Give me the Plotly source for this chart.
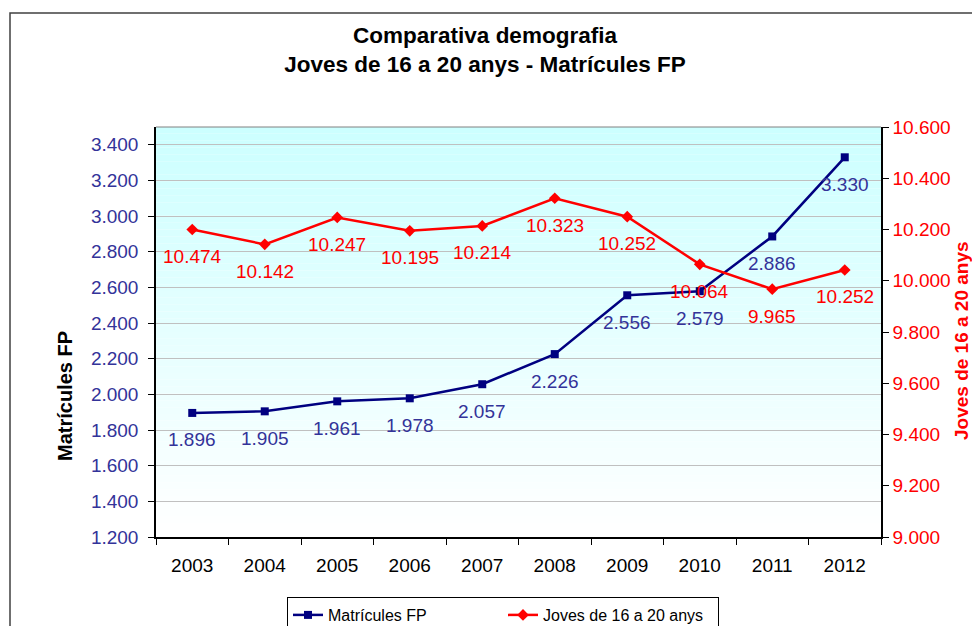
import plotly.graph_objects as go

# --- data -------------------------------------------------------------------
years = ["2003", "2004", "2005", "2006", "2007", "2008", "2009", "2010", "2011", "2012"]
matricules_fp = [1896, 1905, 1961, 1978, 2057, 2226, 2556, 2579, 2886, 3330]
joves_16_20 = [10200, 10142, 10247, 10195, 10214, 10322, 10250, 10064, 9967, 10042]
joves_labels = ["10.474", "10.142", "10.247", "10.195", "10.214",
                "10.323", "10.252", "10.064", "9.965", "10.252"]

W, H = 972, 626
L, R, T, B = 156, 881, 127, 537
FONT = "Arial, Liberation Sans, sans-serif"
BLUE_LINE = "#000080"
BLUE_TEXT = "#333399"
RED = "#FF0000"


def px_x(px):
    return (px - L) / (R - L)


def px_y(py):
    return (B - py) / (B - T)


def thousands(v):
    return f"{v:,}".replace(",", ".")


fig = go.Figure()
fig.add_trace(go.Scatter(
    x=years, y=matricules_fp, name="Matrícules FP", mode="lines+markers",
    line=dict(color=BLUE_LINE, width=2.5),
    marker=dict(symbol="square", size=8, color=BLUE_LINE),
))
fig.add_trace(go.Scatter(
    x=years, y=joves_16_20, name="Joves de 16 a 20 anys", mode="lines+markers",
    yaxis="y2",
    line=dict(color=RED, width=2.5),
    marker=dict(symbol="diamond", size=9, color=RED),
))

# data labels sit below each point; x is the category index on the axis
annotations = []
for i, v in enumerate(matricules_fp):
    annotations.append(dict(
        x=i, y=v, xref="x", yref="y", text=thousands(v), showarrow=False,
        yshift=-27, font=dict(family=FONT, size=19, color=BLUE_TEXT),
    ))
for i, (v, lab) in enumerate(zip(joves_16_20, joves_labels)):
    annotations.append(dict(
        x=i, y=v, xref="x", yref="y2", text=lab, showarrow=False,
        yshift=-27, font=dict(family=FONT, size=19, color=RED),
    ))
annotations.append(dict(
    x=px_x(65), y=px_y(396), xref="paper", yref="paper", text="<b>Matrícules FP</b>",
    xanchor="center", yanchor="middle", textangle=-90, showarrow=False,
    font=dict(family=FONT, size=20, color="black"),
))
annotations.append(dict(
    x=px_x(961), y=px_y(341), xref="paper", yref="paper",
    text="<b>Joves de 16 a 20 anys</b>", xanchor="center", yanchor="middle",
    textangle=-90, showarrow=False,
    font=dict(family=FONT, size=19, color=RED),
))

# plot-area gradient, cyan at the top fading to white
shapes = []
n_bands = 60
for i in range(n_bands):
    f = i / (n_bands - 1)
    r = int(round(204 + 51 * f))
    shapes.append(dict(
        type="rect", xref="paper", yref="paper", layer="below",
        x0=0, x1=1, y0=1 - (i + 1) / n_bands, y1=1 - i / n_bands,
        fillcolor=f"rgb({r},255,255)", line=dict(width=0),
    ))
shapes.append(dict(type="line", xref="paper", yref="paper", x0=0, x1=1, y0=1, y1=1,
                   line=dict(color="#808080", width=1)))
shapes.append(dict(type="rect", xref="paper", yref="paper",
                   x0=px_x(10), x1=px_x(990), y0=px_y(13), y1=px_y(660),
                   line=dict(color="#404040", width=1.5)))

fig.update_layout(
    width=W, height=H,
    margin=dict(l=L, r=W - R, t=T, b=H - B),
    paper_bgcolor="white", plot_bgcolor="rgba(0,0,0,0)",
    separators=",.",
    font=dict(family=FONT, size=19, color="black"),
    title=dict(
        text="<b>Comparativa demografia<br>Joves de 16 a 20 anys - Matrícules FP</b>",
        x=485 / W, xref="container", xanchor="center",
        y=1 - 43 / H, yref="container", yanchor="middle",
        font=dict(family=FONT, size=22.5, color="black"),
    ),
    xaxis=dict(
        type="category", range=[-0.5, 9.5], showgrid=False,
        showline=True, linecolor="black", linewidth=1.5,
        ticks="outside", tickson="boundaries", ticklen=6, tickcolor="black",
        ticklabelstandoff=10,
        tickfont=dict(family=FONT, size=19, color="black"),
    ),
    yaxis=dict(
        range=[1200, 3500], tick0=1200, dtick=200, tickformat=",.0f",
        showgrid=True, gridcolor="#C0C0C0", gridwidth=1,
        showline=True, linecolor="black", linewidth=1.5,
        ticks="outside", ticklen=6, tickcolor="black", ticklabelstandoff=6,
        tickfont=dict(family=FONT, size=19, color=BLUE_TEXT),
        zeroline=False,
    ),
    yaxis2=dict(
        range=[9000, 10600], tick0=9000, dtick=200, tickformat=",.0f",
        overlaying="y", side="right", showgrid=False,
        showline=True, linecolor="black", linewidth=1.5,
        ticks="outside", ticklen=6, tickcolor="black",
        tickfont=dict(family=FONT, size=19, color=RED),
        zeroline=False,
    ),
    legend=dict(
        orientation="h", xref="container", yref="container",
        x=287 / W, xanchor="left", y=1 - 597 / H, yanchor="top",
        bordercolor="black", borderwidth=1, bgcolor="white",
        font=dict(family=FONT, size=16, color="black"),
        entrywidth=170, itemwidth=30,
    ),
    annotations=annotations,
    shapes=shapes,
)

# the page's default body margin would shift the chart by 8px
fig.write_html(
    "out.html",
    config={"displayModeBar": False},
    post_script="document.body.style.margin='0px';",
)
